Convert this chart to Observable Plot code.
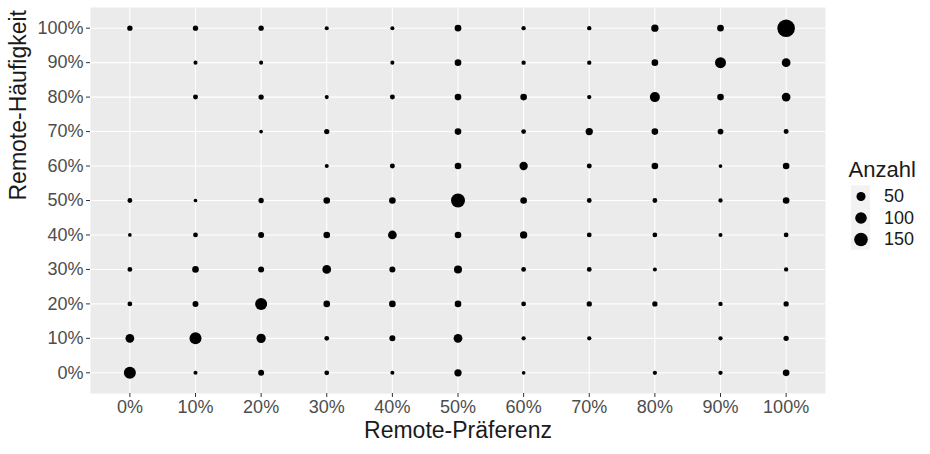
<!DOCTYPE html>
<html>
<head>
<meta charset="utf-8">
<script src="https://cdn.jsdelivr.net/npm/d3@7"></script>
<script src="https://cdn.jsdelivr.net/npm/@observablehq/plot@0.6"></script>
<style>
  html, body { margin: 0; padding: 0; background: #fff; }
  #wrap { position: relative; width: 930px; height: 454px; font-family: "Liberation Sans", Arial, sans-serif; }
  #legend { position: absolute; left: 840px; top: 140px; }
</style>
</head>
<body>
<div id="wrap"><div id="main"></div><div id="legend"></div></div>
<script>
// Category labels
const xLabels = ["0%","10%","20%","30%","40%","50%","60%","70%","80%","90%","100%"];
const yLabels = ["0%","10%","20%","30%","40%","50%","60%","70%","80%","90%","100%"];

// Counts per Remote-Häufigkeit row, ordered by Remote-Präferenz 0%..100% (0 = no point)
const row100 = [8, 8, 8, 2, 2, 19, 3, 3, 26, 19, 280];
const row90  = [0, 2, 2, 0, 2, 19, 3, 3, 19, 86, 45];
const row80  = [0, 6, 8, 2, 6, 19, 19, 3, 66, 19, 45];
const row70  = [0, 0, 1, 8, 0, 19, 5, 26, 19, 11, 6];
const row60  = [0, 0, 0, 2, 6, 19, 39, 6, 19, 1, 19];
const row50  = [5, 1, 8, 19, 19, 160, 19, 5, 5, 3, 19];
const row40  = [1, 5, 13, 19, 45, 19, 26, 5, 5, 2, 5];
const row30  = [5, 19, 13, 45, 13, 35, 5, 5, 2, 0, 3];
const row20  = [5, 13, 108, 19, 19, 19, 5, 8, 8, 3, 8];
const row10  = [45, 108, 54, 5, 13, 45, 3, 3, 0, 3, 8];
const row0   = [108, 2, 13, 5, 2, 26, 1, 0, 3, 3, 19];

const legendValues = [50, 100, 150];

const rows = [row0, row10, row20, row30, row40, row50, row60, row70, row80, row90, row100];
const data = [];
rows.forEach((row, yi) => row.forEach((n, xi) => {
  if (n > 0) data.push({x: xLabels[xi], y: yLabels[yi], n});
}));

const rScale = {type: "sqrt", domain: [0, 280], range: [1.4, 8.8]};
const font = '"Liberation Sans", Arial, sans-serif';

const main = Plot.plot({
  width: 930,
  height: 454,
  marginLeft: 90,
  marginRight: 105,
  marginTop: 7,
  marginBottom: 61,
  style: {fontFamily: font, background: "transparent"},
  x: {type: "point", domain: xLabels, padding: 0.6, round: false},
  y: {type: "point", domain: yLabels, padding: 0.6, reverse: true, round: false},
  r: rScale,
  marks: [
    Plot.frame({fill: "#EBEBEB", stroke: null}),
    Plot.gridX({stroke: "#FFFFFF", strokeOpacity: 1, strokeWidth: 1.1}),
    Plot.gridY({stroke: "#FFFFFF", strokeOpacity: 1, strokeWidth: 1.1}),
    Plot.axisX({tickSize: 4, tickPadding: 3, fontSize: 18, color: "#4D4D4D", stroke: "#333333", label: null}),
    Plot.axisY({tickSize: 4, tickPadding: 3, fontSize: 18, color: "#4D4D4D", stroke: "#333333", label: null}),
    Plot.dot(data, {x: "x", y: "y", r: "n", fill: "black", stroke: null}),
    Plot.text(["Remote-Präferenz"], {frameAnchor: "bottom", dy: 44, fontSize: 23, fill: "#1A1A1A", text: d => d}),
    Plot.text(["Remote-Häufigkeit"], {frameAnchor: "left", dx: -72, rotate: -90, fontSize: 23, fill: "#1A1A1A", text: d => d})
  ]
});
document.getElementById("main").appendChild(main);

const legend = Plot.plot({
  width: 90,
  height: 120,
  marginLeft: 0, marginRight: 0, marginTop: 0, marginBottom: 0,
  style: {fontFamily: font, background: "transparent"},
  x: {type: "band", domain: ["key"], range: [11, 30], padding: 0, round: false, axis: null},
  y: {type: "band", domain: legendValues, range: [45.25, 109.75], padding: 0, round: false, axis: null},
  r: rScale,
  marks: [
    Plot.cell(legendValues, {x: () => "key", y: d => d, fill: "#F2F2F2"}),
    Plot.dot(legendValues, {x: () => "key", y: d => d, r: d => d, fill: "black", stroke: null}),
    Plot.text(legendValues, {x: () => "key", y: d => d, text: d => String(d), dx: 23, textAnchor: "start", fontSize: 18, fill: "#1A1A1A"}),
    Plot.text(["Anzahl"], {frameAnchor: "top-left", dx: 8, dy: 21, textAnchor: "start", fontSize: 22, fill: "#1A1A1A", text: d => d})
  ]
});
document.getElementById("legend").appendChild(legend);
</script>
</body>
</html>
